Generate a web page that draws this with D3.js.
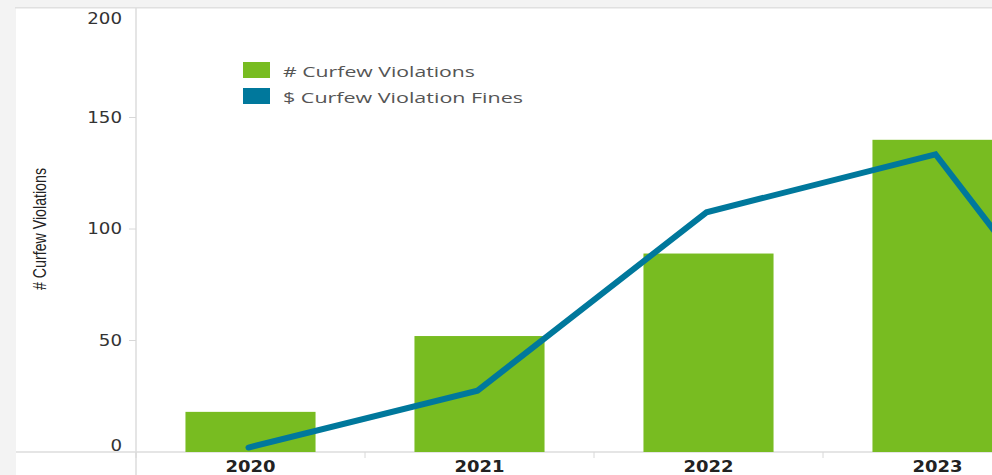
<!DOCTYPE html>
<html><head><meta charset="utf-8">
<script src="https://cdn.jsdelivr.net/npm/d3@7"></script>
<style>html,body{margin:0;padding:0;background:#fff;overflow:hidden}svg{display:block}</style>
</head><body>
<svg id="c" width="992" height="475"></svg>
<script>
const categories = ["2020", "2021", "2022", "2023", "2024"];
const violations = [18, 52, 89, 140, null];
const fines = [100, 1375, 5375, 6675, 0];
const yTicks = [0, 50, 100, 150, 200];
const seriesNames = ["# Curfew Violations", "$ Curfew Violation Fines"];
const yTitle = "# Curfew Violations";

const W = 992, H = 475;
const svg = d3.select("#c");
const green = "#78bc21", blue = "#00789c";

svg.append("rect").attr("width", W).attr("height", H).attr("fill", "#f3f3f3");
svg.append("rect").attr("x", 16).attr("y", 8).attr("width", W - 16).attr("height", H - 8).attr("fill", "#fff");
svg.append("rect").attr("x", 15).attr("y", 7).attr("width", W - 15).attr("height", 1.5).attr("fill", "#e0e0e0");

const x = d3.scaleBand().domain(categories).range([136, 136 + 229 * categories.length]).paddingInner(0.432).paddingOuter(0.216);
const xb = d3.scaleBand().domain(categories).range([136, 136 + 229 * categories.length]);
const y = d3.scaleLinear().domain([0, 200]).range([452, 6]);
const y2 = d3.scaleLinear().domain([0, 10000]).range([452, 6]);

svg.append("line").attr("x1", 16).attr("x2", W).attr("y1", 452).attr("y2", 452).attr("stroke", "#dcdcdc").attr("stroke-width", 1.5);
svg.append("line").attr("x1", 136).attr("x2", 136).attr("y1", 8).attr("y2", H).attr("stroke", "#dcdcdc").attr("stroke-width", 1.5);

// y ticks
const yt = svg.append("g");
yt.selectAll("line").data(yTicks.filter(d => d > 0 && d < 200)).join("line")
  .attr("x1", 129).attr("x2", 136).attr("y1", d => y(d)).attr("y2", d => y(d)).attr("stroke", "#d8d8d8");
yt.selectAll("text").data(yTicks).join("text")
  .attr("x", 122)
  .attr("y", d => d === 200 ? 19 : d === 0 ? 446 : y(d))
  .attr("dy", "0.36em")
  .attr("text-anchor", "end")
  .attr("font-family", "DejaVu Sans, Verdana, sans-serif")
  .attr("font-size", 15)
  .attr("fill", "#333")
  .attr("textLength", d => String(d).length * 11.6)
  .attr("lengthAdjust", "spacingAndGlyphs")
  .text(d => d);

// x ticks
svg.append("g").selectAll("line").data(categories).join("line")
  .attr("x1", d => xb(d)).attr("x2", d => xb(d)).attr("y1", 452).attr("y2", 458)
  .attr("stroke", "#d8d8d8");
svg.append("g").selectAll("text").data(categories.filter(c => xb(c) + xb.bandwidth() / 2 + 25 <= W)).join("text")
  .attr("x", d => xb(d) + xb.bandwidth() / 2)
  .attr("y", 467).attr("dy", "0.36em")
  .attr("text-anchor", "middle")
  .attr("font-family", "DejaVu Sans, Verdana, sans-serif")
  .attr("font-weight", "bold")
  .attr("font-size", 15)
  .attr("fill", "#222")
  .attr("textLength", 50)
  .attr("lengthAdjust", "spacingAndGlyphs")
  .text(d => d);

// y title
svg.append("text")
  .attr("transform", "translate(46,229) rotate(-90)")
  .attr("text-anchor", "middle")
  .attr("font-family", "Liberation Sans Narrow, Liberation Sans, Arial, sans-serif")
  .attr("font-size", 18)
  .attr("fill", "#222")
  .attr("textLength", 122)
  .attr("lengthAdjust", "spacingAndGlyphs")
  .text(yTitle);

// bars
const barData = categories.map((c, i) => ({c, v: violations[i]})).filter(d => d.v != null);
svg.append("g").selectAll("rect").data(barData).join("rect")
  .attr("x", d => x(d.c)).attr("width", x.bandwidth())
  .attr("y", d => y(d.v)).attr("height", d => y(0) - y(d.v))
  .attr("fill", green);

// line
const lineData = categories.map((c, i) => ({c, v: fines[i]}));
svg.append("path").datum(lineData)
  .attr("fill", "none").attr("stroke", blue).attr("stroke-width", 6)
  .attr("stroke-linecap", "round").attr("stroke-linejoin", "miter")
  .attr("d", d3.line().x(d => xb(d.c) + xb.bandwidth() / 2 - 2).y(d => y2(d.v)));

// legend
const lg = svg.append("g");
const legendColors = [green, blue];
seriesNames.forEach((n, i) => {
  lg.append("rect").attr("x", 243).attr("y", 62 + i * 26).attr("width", 27).attr("height", 16).attr("fill", legendColors[i]);
  lg.append("text").attr("x", 283).attr("y", 77 + i * 26)
    .attr("font-family", "Open Sans, sans-serif").attr("font-size", 14.5)
    .attr("fill", "#555")
    .attr("textLength", i === 0 ? 192 : 240)
    .attr("lengthAdjust", "spacingAndGlyphs")
    .text(n);
});
</script>
</body></html>
